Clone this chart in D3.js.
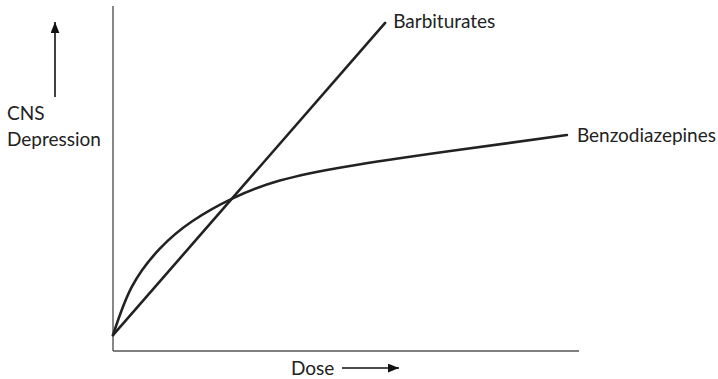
<!DOCTYPE html>
<html>
<head>
<meta charset="utf-8">
<script src="https://cdn.jsdelivr.net/npm/d3@7"></script>
<style>
  html, body { margin: 0; padding: 0; background: #fff; }
  svg { display: block; }
  text { font-family: Lato, "Open Sans", sans-serif; fill: #222; }
</style>
</head>
<body>
<svg id="chart" width="718" height="379"></svg>
<script>
// Dose (relative units) vs CNS depression (relative units)
const barbDose = [0, 58.4];
const barbEffect = [4.6, 95.1];

const benzoDose = [0, 4.0, 10.0, 17.0, 25.8, 35.8, 50.2, 72.0, 97.4];
const benzoEffect = [4.6, 18.5, 29.6, 37.6, 44.3, 49.4, 53.5, 57.9, 62.6];

const seriesNames = ["Barbiturates", "Benzodiazepines"];
const xAxisLabel = "Dose";
const yAxisLabel = ["CNS", "Depression"];

const svg = d3.select("#chart");

const x = d3.scaleLinear().domain([0, 100]).range([113, 579]);
const y = d3.scaleLinear().domain([0, 100]).range([351, 6]);

// axes: plain lines without ticks
svg.append("line")
  .attr("x1", x(0)).attr("x2", x(0))
  .attr("y1", y(0)).attr("y2", y(100))
  .attr("stroke", "#555").attr("stroke-width", 1.4);
svg.append("line")
  .attr("x1", x(0)).attr("x2", x(100))
  .attr("y1", y(0)).attr("y2", y(0))
  .attr("stroke", "#555").attr("stroke-width", 1.4);

const barb = d3.zip(barbDose, barbEffect);
const benzo = d3.zip(benzoDose, benzoEffect);

svg.append("path")
  .datum(barb)
  .attr("d", d3.line().x(d => x(d[0])).y(d => y(d[1])))
  .attr("fill", "none")
  .attr("stroke", "#222")
  .attr("stroke-width", 2.6)
  .attr("stroke-linecap", "round");

svg.append("path")
  .datum(benzo)
  .attr("d", d3.line().x(d => x(d[0])).y(d => y(d[1])).curve(d3.curveNatural))
  .attr("fill", "none")
  .attr("stroke", "#222")
  .attr("stroke-width", 2.6)
  .attr("stroke-linecap", "round");

// series labels at line ends
const barbEnd = barb[barb.length - 1];
const benzoEnd = benzo[benzo.length - 1];
svg.append("text")
  .attr("x", x(barbEnd[0]) + 8).attr("y", y(barbEnd[1]) + 5)
  .attr("font-size", 19)
  .text(seriesNames[0]);
svg.append("text")
  .attr("x", x(benzoEnd[0]) + 10).attr("y", y(benzoEnd[1]) + 7)
  .attr("font-size", 19)
  .text(seriesNames[1]);

// arrowheads
svg.append("defs").append("marker")
  .attr("id", "arrow")
  .attr("viewBox", "0 0 10 8")
  .attr("refX", 10).attr("refY", 4)
  .attr("markerWidth", 11).attr("markerHeight", 9)
  .attr("markerUnits", "userSpaceOnUse")
  .attr("orient", "auto")
  .append("path")
  .attr("d", "M0,0 L10,4 L0,8 Z")
  .attr("fill", "#111");

// y-axis label with upward arrow
svg.append("line")
  .attr("x1", 55).attr("x2", 55)
  .attr("y1", 97).attr("y2", 22)
  .attr("stroke", "#111").attr("stroke-width", 1.6)
  .attr("marker-end", "url(#arrow)");
svg.append("text")
  .attr("x", 7).attr("y", 120)
  .attr("font-size", 19)
  .text(yAxisLabel[0]);
svg.append("text")
  .attr("x", 7).attr("y", 146)
  .attr("font-size", 19)
  .text(yAxisLabel[1]);

// x-axis label with rightward arrow
svg.append("text")
  .attr("x", 291).attr("y", 375)
  .attr("font-size", 19)
  .text(xAxisLabel);
svg.append("line")
  .attr("x1", 342).attr("x2", 399)
  .attr("y1", 368).attr("y2", 368)
  .attr("stroke", "#111").attr("stroke-width", 1.6)
  .attr("marker-end", "url(#arrow)");
</script>
</body>
</html>
